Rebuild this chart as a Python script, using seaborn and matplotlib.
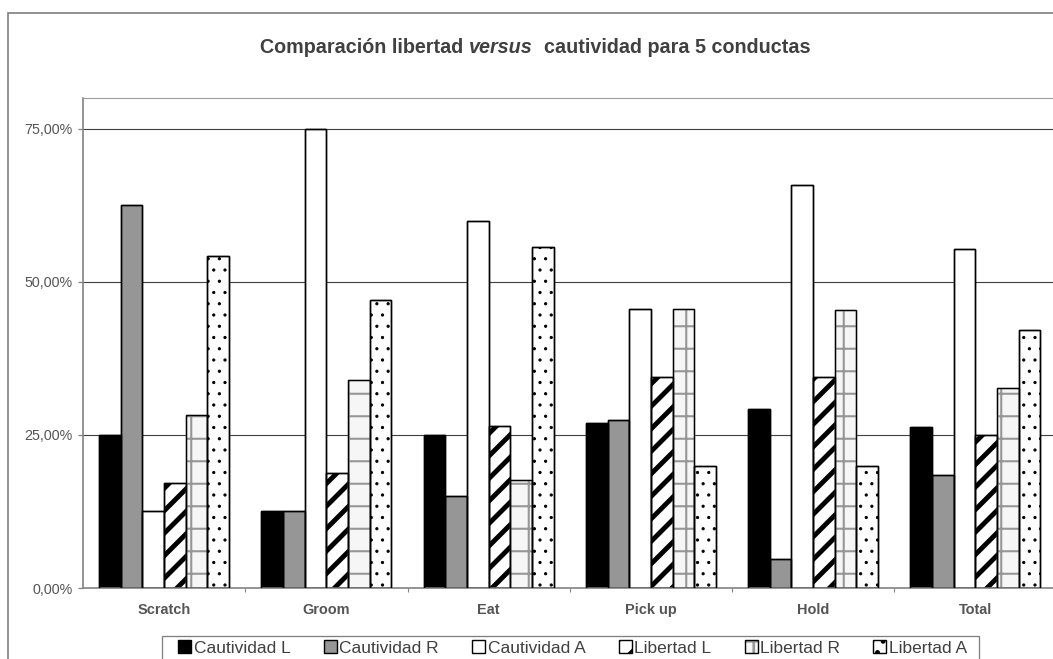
import numpy as np
import pandas as pd
import matplotlib
matplotlib.use("Agg")
import matplotlib.pyplot as plt
from matplotlib.patches import Patch, Rectangle
from matplotlib.ticker import FixedLocator
from matplotlib.legend_handler import HandlerTuple
import seaborn as sns

# ---- data -------------------------------------------------------------
conductas = ["Scratch", "Groom", "Eat", "Pick up", "Hold", "Total"]
series = ["Cautividad L", "Cautividad R", "Cautividad A",
          "Libertad L", "Libertad R", "Libertad A"]

cautividad_l = [0.250, 0.125, 0.250, 0.270, 0.293, 0.263]
cautividad_r = [0.625, 0.125, 0.150, 0.275, 0.048, 0.184]
cautividad_a = [0.125, 0.750, 0.600, 0.455, 0.658, 0.553]
libertad_l = [0.172, 0.188, 0.265, 0.345, 0.345, 0.250]
libertad_r = [0.283, 0.340, 0.176, 0.455, 0.454, 0.326]
libertad_a = [0.542, 0.471, 0.556, 0.200, 0.200, 0.422]

y_ticks = [0.0, 0.25, 0.50, 0.75]
y_tick_labels = ["0,00%", "25,00%", "50,00%", "75,00%"]

title_parts = ["Comparación libertad", "versus", "cautividad para 5 conductas"]

# ---- styling ----------------------------------------------------------
fills = ["#000000", "#969696", "#ffffff", "#ffffff", "#f6f6f6", "#fdfdfd"]
hatches = [None, None, None, "//", "+", ".."]
hatch_colors = ["#000000", "#000000", "#000000", "#000000", "#969696", "#000000"]
hatch_widths = [1.0, 1.0, 1.0, 2.6, 1.1, 0.5]

DPI = 135
W, H = 1053, 659
TXT = "#555555"
AXC = "#858585"

sns.set_theme(style="white")
plt.rcParams["font.family"] = ["Liberation Sans", "DejaVu Sans"]
plt.rcParams["hatch.linewidth"] = 1.4

fig = plt.figure(figsize=(W / DPI, H / DPI), dpi=DPI)
fig.patch.set_facecolor("white")

# outer chart frame
fig.add_artist(Rectangle((8 / W, -0.5), 2.0, (1 - 13 / H) + 0.5,
                         transform=fig.transFigure, fill=False,
                         edgecolor="#808080", lw=0.9, clip_on=False))

ax = fig.add_axes([83 / W, 1 - 588 / H, (1056.5 - 83) / W, (588 - 98) / H])

values = [cautividad_l, cautividad_r, cautividad_a, libertad_l, libertad_r, libertad_a]
df = pd.DataFrame({
    "conducta": conductas * len(series),
    "serie": np.repeat(series, len(conductas)),
    "valor": np.concatenate(values),
})
palette = dict(zip(series, fills))

sns.barplot(data=df, x="conducta", y="valor", hue="serie",
            order=conductas, hue_order=series, palette=palette,
            saturation=1, errorbar=None, width=0.8, gap=0,
            edgecolor="black", linewidth=0.75, legend=False, ax=ax, zorder=2)

for cont, hatch, hcol, hlw in zip(ax.containers[:6], hatches, hatch_colors, hatch_widths):
    for p in cont:
        if hatch:
            p.set_hatch(hatch)
            p.set_edgecolor(hcol)
            if hasattr(p, "set_hatch_linewidth"):
                p.set_hatch_linewidth(hlw)

# black outlines on top of the patterned bars
n_before = len(ax.containers)
sns.barplot(data=df, x="conducta", y="valor", hue="serie",
            order=conductas, hue_order=series, palette=palette,
            saturation=1, errorbar=None, width=0.8, gap=0,
            edgecolor="black", linewidth=0.75, legend=False, ax=ax, zorder=3)
for cont in ax.containers[n_before:]:
    for p in cont:
        p.set_facecolor("none")
        p.set_edgecolor("black")
        p.set_hatch(None)

# ---- axes -------------------------------------------------------------
ax.set_xlim(-0.5, 5.5)
ax.set_ylim(0, 0.8)
ax.set_xlabel("")
ax.set_ylabel("")
ax.set_yticks(y_ticks, y_tick_labels)
ax.set_xticks(range(len(conductas)), conductas, fontweight="bold")
ax.xaxis.set_minor_locator(FixedLocator([0.5, 1.5, 2.5, 3.5, 4.5]))
ax.yaxis.grid(True, color="#404040", lw=0.6)
ax.set_axisbelow(True)
ax.tick_params(axis="y", length=2.7, width=0.7, color=AXC, pad=3.0,
               labelsize=7.6, labelcolor=TXT, left=True)
ax.tick_params(axis="x", which="major", length=0, pad=8, labelsize=7.75, labelcolor=TXT)
ax.tick_params(axis="x", which="minor", length=2.2, width=0.6, color=AXC, bottom=True)
for side in ("left", "bottom"):
    ax.spines[side].set_color(AXC)
    ax.spines[side].set_linewidth(0.9)
ax.spines["top"].set_color("#a0a0a0")
ax.spines["top"].set_linewidth(0.6)
ax.spines["right"].set_color("#a0a0a0")
ax.spines["right"].set_linewidth(0.6)

# ---- legend -----------------------------------------------------------
handles = []
for fill, hatch, hcol, hlw in zip(fills, hatches, hatch_colors, hatch_widths):
    if hcol.lower() != "#000000":
        handles.append((Patch(facecolor=fill, edgecolor=hcol, hatch=hatch, lw=0),
                        Patch(facecolor="none", edgecolor="black", lw=0.75)))
    else:
        handles.append(Patch(facecolor=fill, edgecolor="black", hatch=hatch, lw=0.75))

leg = fig.legend(handles, series, loc="center left",
                 bbox_to_anchor=(178 / W, 1 - 648 / H), ncol=6,
                 frameon=False, fontsize=9.3, handlelength=0.75, handleheight=0.75,
                 handletextpad=0.15, columnspacing=1.9, borderpad=0,
                 borderaxespad=0, handler_map={tuple: HandlerTuple(ndivide=1, pad=0)})
for t in leg.get_texts():
    t.set_color("#404040")
fig.add_artist(Rectangle((162 / W, -0.5), (979 - 162) / W, (1 - 636 / H) + 0.5,
                         transform=fig.transFigure, fill=False,
                         edgecolor="#808080", lw=0.7, clip_on=False))

# ---- title (with italic 'versus') --------------------------------------
renderer = fig.canvas.get_renderer()
tkw = dict(fontsize=10.5, fontweight="bold", color="#404040")


def text_width(s, **kw):
    t = fig.text(0, 0, s, **kw)
    w = t.get_window_extent(renderer).width
    t.remove()
    return w


space = text_width("n n", **tkw) - text_width("nn", **tkw)
w1 = text_width(title_parts[0], **tkw)
w2 = text_width(title_parts[1], style="italic", **tkw)
w3 = text_width(title_parts[2], **tkw)
total = w1 + space + w2 + 2 * space + w3
x0 = 535 - total / 2
yb = 1 - 53 / H
fig.text(x0 / W, yb, title_parts[0], va="baseline", ha="left", **tkw)
fig.text((x0 + w1 + space) / W, yb, title_parts[1], va="baseline", ha="left",
         style="italic", **tkw)
fig.text((x0 + w1 + space + w2 + 2 * space) / W, yb, title_parts[2],
         va="baseline", ha="left", **tkw)

fig.savefig("out.png", dpi=DPI)
